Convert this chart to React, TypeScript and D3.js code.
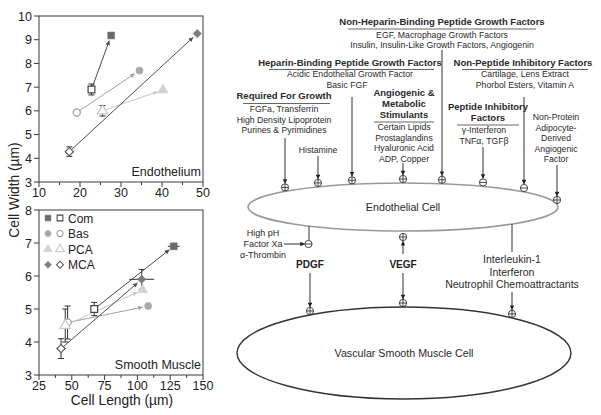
import React from "react";
import * as d3 from "d3";

const W = 601;
const H = 415;

const groups = ["Com", "Bas", "PCA", "MCA"];
const groupShapes = ["square", "circle", "triangle", "diamond"];
const groupFill = ["#6a6a6a", "#a9a9a9", "#d2d2d2", "#7c7c7c"];
const groupOpenStroke = ["#444444", "#9a9a9a", "#c6c6c6", "#555555"];
const groupLine = ["#4a4a4a", "#a0a0a0", "#c8c8c8", "#4f4f4f"];

// Endothelium panel
const endoXTicks = [10, 20, 30, 40, 50];
const endoXMinor = [15, 25, 35, 45];
const endoYTicks = [3, 4, 5, 6, 7, 8, 9, 10];
const endoOpenX = [22.8, 19.2, 25.5, 17.4];
const endoOpenY = [6.9, 5.93, 6.0, 4.28];
const endoOpenYErr = [0.23, 0, 0.22, 0.2];
const endoFilledX = [27.6, 34.5, 40.2, 48.6];
const endoFilledY = [9.18, 7.7, 6.88, 9.26];
const endoFilledXErr = [0, 0, 0, 0];
const endoFilledYErr = [0, 0, 0, 0];

// Smooth muscle panel
const smXTicks = [25, 50, 75, 100, 125, 150];
const smXMinor = [37.5, 62.5, 87.5, 112.5, 137.5];
const smYTicks = [3, 4, 5, 6, 7, 8];
const smOpenX = [67.1, 46.8, 45.0, 41.8];
const smOpenY = [5.0, 4.59, 4.5, 3.8];
const smOpenYErr = [0.2, 0.5, 0.5, 0.3];
const smFilledX = [127.7, 108.2, 103.9, 103.3];
const smFilledY = [6.9, 5.09, 5.58, 5.9];
const smFilledXErr = [4.5, 0, 0, 9.5];
const smFilledYErr = [0, 0, 0, 0.3];

const FONT = "'Liberation Sans', Arial, Helvetica, sans-serif";

function symPath(shape: string) {
  if (shape === "square") return d3.symbol(d3.symbolSquare, 46)() as string;
  if (shape === "circle") return d3.symbol(d3.symbolCircle, 40)() as string;
  if (shape === "triangle") return d3.symbol(d3.symbolTriangle, 46)() as string;
  return d3.symbol(d3.symbolSquare, 34)() as string;
}

function Marker({ x, y, g, open, scale = 1 }: any) {
  const shape = groupShapes[g];
  const rot = shape === "diamond" ? " rotate(45)" : "";
  return (
    <path
      d={symPath(shape)}
      transform={`translate(${x},${y})${rot} scale(${scale})`}
      fill={open ? "#fff" : groupFill[g]}
      stroke={open ? groupOpenStroke[g] : groupFill[g]}
      strokeWidth={open ? 1.2 : 0.6}
    />
  );
}

function Panel(props: any) {
  const { top, bottom, xDom, yDom, xTicks, xMinor, yTicks, openX, openY, openYErr, filledX, filledY, filledXErr, filledYErr, label, legend, idp } = props;
  const left = 39;
  const right = 203;
  const x = d3.scaleLinear().domain(xDom).range([left, right]);
  const y = d3.scaleLinear().domain(yDom).range([bottom, top]);
  return (
    <g>
      <defs>
        {groups.map((_, i) => (
          <marker key={i} id={`${idp}-ah-${i}`} viewBox="0 0 10 10" refX={10} refY={5} markerWidth={5} markerHeight={4.5} orient="auto" markerUnits="userSpaceOnUse">
            <path d="M0,0 L10,5 L0,10 z" fill={groupLine[i]} />
          </marker>
        ))}
      </defs>
      <rect x={left} y={top} width={right - left} height={bottom - top} fill="none" stroke="#3a3a3a" strokeWidth={1} />
      {xTicks.map((t: number) => (
        <g key={"xt" + t}>
          <line x1={x(t)} x2={x(t)} y1={bottom} y2={bottom + 5} stroke="#3a3a3a" />
          <text x={x(t)} y={bottom + 15} textAnchor="middle" fontSize={12.5} fill="#222">{t}</text>
        </g>
      ))}
      {xMinor.map((t: number) => (
        <line key={"xm" + t} x1={x(t)} x2={x(t)} y1={bottom} y2={bottom + 3} stroke="#3a3a3a" />
      ))}
      {yTicks.map((t: number) => (
        <g key={"yt" + t}>
          <line x1={left - 5} x2={left} y1={y(t)} y2={y(t)} stroke="#3a3a3a" />
          <text x={left - 7} y={y(t) + 4.5} textAnchor="end" fontSize={12.5} fill="#222">{t}</text>
        </g>
      ))}
      {groups.map((_, i) => {
        const x0 = x(openX[i]), y0 = y(openY[i]);
        const x1 = x(filledX[i]), y1 = y(filledY[i]);
        const dx = x1 - x0, dy = y1 - y0;
        const len = Math.sqrt(dx * dx + dy * dy);
        const ex = x1 - (dx / len) * 5.5;
        const ey = y1 - (dy / len) * 5.5;
        return (
          <line key={"ar" + i} x1={x0} y1={y0} x2={ex} y2={ey} stroke={groupLine[i]} strokeWidth={1} markerEnd={`url(#${idp}-ah-${i})`} />
        );
      })}
      {groups.map((_, i) => (
        <g key={"eb" + i} stroke="#333" strokeWidth={1}>
          {openYErr[i] > 0 && (
            <g>
              <line x1={x(openX[i])} x2={x(openX[i])} y1={y(openY[i] - openYErr[i])} y2={y(openY[i] + openYErr[i])} />
              <line x1={x(openX[i]) - 3} x2={x(openX[i]) + 3} y1={y(openY[i] - openYErr[i])} y2={y(openY[i] - openYErr[i])} />
              <line x1={x(openX[i]) - 3} x2={x(openX[i]) + 3} y1={y(openY[i] + openYErr[i])} y2={y(openY[i] + openYErr[i])} />
            </g>
          )}
          {filledYErr[i] > 0 && (
            <g>
              <line x1={x(filledX[i])} x2={x(filledX[i])} y1={y(filledY[i] - filledYErr[i])} y2={y(filledY[i] + filledYErr[i])} />
              <line x1={x(filledX[i]) - 3} x2={x(filledX[i]) + 3} y1={y(filledY[i] - filledYErr[i])} y2={y(filledY[i] - filledYErr[i])} />
              <line x1={x(filledX[i]) - 3} x2={x(filledX[i]) + 3} y1={y(filledY[i] + filledYErr[i])} y2={y(filledY[i] + filledYErr[i])} />
            </g>
          )}
          {filledXErr[i] > 0 && (
            <line x1={x(filledX[i] - filledXErr[i])} x2={x(filledX[i] + filledXErr[i])} y1={y(filledY[i])} y2={y(filledY[i])} />
          )}
        </g>
      ))}
      {groups.map((_, i) => (
        <g key={"mk" + i}>
          <Marker x={x(openX[i])} y={y(openY[i])} g={i} open={true} />
          <Marker x={x(filledX[i])} y={y(filledY[i])} g={i} open={false} />
        </g>
      ))}
      <text x={right - 2} y={bottom - 6} textAnchor="end" fontSize={12.5} fill="#222">{label}</text>
      {legend &&
        groups.map((name, i) => (
          <g key={"lg" + i}>
            <Marker x={48} y={top + 8 + i * 15.6} g={i} open={false} scale={0.85} />
            <Marker x={60} y={top + 8 + i * 15.6} g={i} open={true} scale={0.85} />
            <text x={68} y={top + 12.5 + i * 15.6} fontSize={12} fill="#222">{name}</text>
          </g>
        ))}
    </g>
  );
}

// Diagram data (labels)
const topInputX = [285, 318, 352, 403, 442, 483, 524, 557];
const topInputFromY = [138, 156, 97, 163, 50, 147, 97, 165];
const topInputSign = ["+", "+", "+", "+", "+", "-", "-", "+"];

const endo = { cx: 403, cy: 207, rx: 155, ry: 24 };
const vsmc = { cx: 404, cy: 353, rx: 167, ry: 46 };

function ellTop(e: any, x: number) {
  const t = (x - e.cx) / e.rx;
  return e.cy - e.ry * Math.sqrt(Math.max(0, 1 - t * t));
}
function ellBot(e: any, x: number) {
  const t = (x - e.cx) / e.rx;
  return e.cy + e.ry * Math.sqrt(Math.max(0, 1 - t * t));
}

function Sign({ x, y, s }: any) {
  return (
    <g stroke="#333" strokeWidth={0.9} fill="#fff">
      <circle cx={x} cy={y} r={3.6} />
      <line x1={x - 3.6} x2={x + 3.6} y1={y} y2={y} />
      {s === "+" && <line x1={x} x2={x} y1={y - 3.6} y2={y + 3.6} />}
    </g>
  );
}

function Lines({ x, y, lines, size, bold, lh }: any) {
  return (
    <text x={x} textAnchor="middle" fontSize={size} fontWeight={bold ? "bold" : "normal"} fill="#2a2a2a">
      {lines.map((l: string, i: number) => (
        <tspan key={i} x={x} y={y + i * lh}>{l}</tspan>
      ))}
    </text>
  );
}

function Diagram() {
  const B = 9.5;
  const S = 8.7;
  const arrow = "url(#dg-ah)";
  return (
    <g>
      <defs>
        <marker id="dg-ah" viewBox="0 0 10 10" refX={10} refY={5} markerWidth={5} markerHeight={4.5} orient="auto" markerUnits="userSpaceOnUse">
          <path d="M0,0 L10,5 L0,10 z" fill="#222" />
        </marker>
      </defs>
      {/* headings */}
      <Lines x={442} y={24.5} lines={["Non-Heparin-Binding Peptide Growth Factors"]} size={B} bold lh={11} />
      <line x1={348} x2={536} y1={29} y2={29} stroke="#666" />
      <Lines x={442} y={37.5} lines={["EGF, Macrophage Growth Factors", "Insulin, Insulin-Like Growth Factors, Angiogenin"]} size={S} lh={10.5} />

      <Lines x={350} y={65.5} lines={["Heparin-Binding Peptide Growth Factors"]} size={B} bold lh={11} />
      <line x1={269} x2={434} y1={69.5} y2={69.5} stroke="#666" />
      <Lines x={350} y={77} lines={["Acidic Endothelial Growth Factor"]} size={S} lh={10.5} />
      <Lines x={347} y={87.5} lines={["Basic FGF"]} size={S} lh={10.5} />

      <Lines x={523} y={65.5} lines={["Non-Peptide Inhibitory Factors"]} size={B} bold lh={11} />
      <line x1={462} x2={588} y1={69.5} y2={69.5} stroke="#666" />
      <Lines x={525} y={77} lines={["Cartilage, Lens Extract", "Phorbol Esters, Vitamin A"]} size={S} lh={10.5} />

      <Lines x={284} y={99} lines={["Required For Growth"]} size={B} bold lh={11} />
      <line x1={243} x2={330} y1={103.5} y2={103.5} stroke="#666" />
      <Lines x={284} y={112} lines={["FGFa, Transferrin", "High Density Lipoprotein", "Purines & Pyrimidines"]} size={S} lh={10.6} />

      <Lines x={404} y={95.5} lines={["Angiogenic &", "Metabolic", "Stimulants"]} size={B} bold lh={11.3} />
      <line x1={374} x2={434} y1={122} y2={122} stroke="#666" />
      <Lines x={404} y={130} lines={["Certain Lipids", "Prostaglandins", "Hyaluronic Acid", "ADP, Copper"]} size={S} lh={10.6} />

      <Lines x={488} y={109.5} lines={["Peptide Inhibitory", "Factors"]} size={B} bold lh={11.3} />
      <line x1={457} x2={519} y1={125} y2={125} stroke="#666" />
      <Lines x={484} y={133} lines={["\u03b3-Interferon", "TNF\u03b1, TGF\u03b2"]} size={S} lh={10.6} />

      <Lines x={556} y={120} lines={["Non-Protein", "Adipocyte-", "Derived", "Angiogenic", "Factor"]} size={S} lh={10.5} />

      <Lines x={318} y={153} lines={["Histamine"]} size={S} lh={10.5} />

      {/* endothelial cell */}
      <ellipse cx={endo.cx} cy={endo.cy} rx={endo.rx} ry={endo.ry} fill="none" stroke="#9a9a9a" strokeWidth={1.6} />
      <text x={endo.cx} y={endo.cy + 4} textAnchor="middle" fontSize={10.7} fill="#2a2a2a">Endothelial Cell</text>

      {topInputX.map((x, i) => {
        const sy = Math.min(ellTop(endo, x) - 4, x > 550 ? 200 : 999);
        return (
          <g key={"in" + i}>
            <line x1={x} x2={x} y1={topInputFromY[i]} y2={sy - 3.8} stroke="#333" strokeWidth={1} markerEnd={arrow} />
            <Sign x={x} y={sy} s={topInputSign[i]} />
          </g>
        );
      })}

      {/* bottom interactions */}
      <Lines x={263} y={236} lines={["High pH", "Factor Xa", "\u03b1-Thrombin"]} size={9} lh={11} />
      <line x1={309} x2={309} y1={ellBot(endo, 309)} y2={240.4} stroke="#333" strokeWidth={1} />
      <line x1={284} x2={304.8} y1={244} y2={244} stroke="#333" strokeWidth={1} markerEnd={arrow} />
      <Sign x={308.5} y={244} s="-" />
      <text x={310} y={268} textAnchor="middle" fontSize={10} fontWeight="bold" fill="#222">PDGF</text>
      <line x1={310} x2={310} y1={273} y2={ellTop(vsmc, 310) - 7.8} stroke="#333" strokeWidth={1} markerEnd={arrow} />
      <Sign x={310} y={ellTop(vsmc, 310) - 4} s="+" />

      <Sign x={403} y={237} s="+" />
      <line x1={403} x2={403} y1={254} y2={241} stroke="#333" strokeWidth={1} markerEnd={arrow} />
      <text x={403} y={268} textAnchor="middle" fontSize={10} fontWeight="bold" fill="#222">VEGF</text>
      <line x1={403} x2={403} y1={273} y2={ellTop(vsmc, 403) - 7.8} stroke="#333" strokeWidth={1} markerEnd={arrow} />
      <Sign x={403} y={ellTop(vsmc, 403) - 4} s="+" />

      <line x1={512} x2={512} y1={ellBot(endo, 512)} y2={252} stroke="#333" strokeWidth={1} />
      <Lines x={512} y={263} lines={["Interleukin-1", "Interferon", "Neutrophil Chemoattractants"]} size={10.5} lh={12.5} />
      <line x1={512} x2={512} y1={292} y2={ellTop(vsmc, 512) - 7.8} stroke="#333" strokeWidth={1} markerEnd={arrow} />
      <Sign x={512} y={ellTop(vsmc, 512) - 4} s="+" />

      <ellipse cx={vsmc.cx} cy={vsmc.cy} rx={vsmc.rx} ry={vsmc.ry} fill="none" stroke="#333" strokeWidth={1.4} />
      <text x={vsmc.cx} y={vsmc.cy + 4} textAnchor="middle" fontSize={10.7} fill="#2a2a2a">Vascular Smooth Muscle Cell</text>
    </g>
  );
}

export default function App() {
  return (
    <svg width={W} height={H} viewBox={`0 0 ${W} ${H}`} style={{ position: "absolute", left: 0, top: 0, background: "#fff" }} fontFamily={FONT}>
      <rect x={0} y={0} width={W} height={H} fill="#fff" />
      <Panel idp="en" top={16} bottom={182} xDom={[10, 50]} yDom={[3, 10]} xTicks={endoXTicks} xMinor={endoXMinor} yTicks={endoYTicks}
        openX={endoOpenX} openY={endoOpenY} openYErr={endoOpenYErr} filledX={endoFilledX} filledY={endoFilledY}
        filledXErr={endoFilledXErr} filledYErr={endoFilledYErr} label="Endothelium" legend={false} />
      <Panel idp="sm" top={210} bottom={375} xDom={[25, 150]} yDom={[3, 8]} xTicks={smXTicks} xMinor={smXMinor} yTicks={smYTicks}
        openX={smOpenX} openY={smOpenY} openYErr={smOpenYErr} filledX={smFilledX} filledY={smFilledY}
        filledXErr={smFilledXErr} filledYErr={smFilledYErr} label="Smooth Muscle" legend={true} />
      <text transform="translate(19,190) rotate(-90)" textAnchor="middle" fontSize={13.8} fill="#222">Cell Width (µm)</text>
      <text x={122} y={405} textAnchor="middle" fontSize={13.8} fill="#222">Cell Length (µm)</text>
      <Diagram />
    </svg>
  );
}
